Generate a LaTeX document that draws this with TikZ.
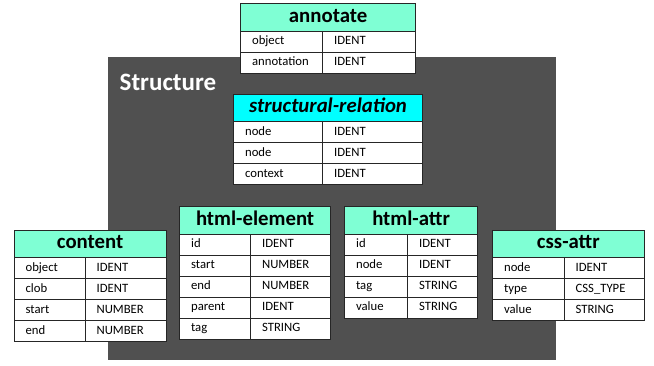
\documentclass[tikz,border=0pt]{standalone}
\usepackage{fontspec}
\setmainfont{Carlito}
\definecolor{panelgray}{HTML}{505050}
\definecolor{headaqua}{HTML}{7FFFD4}
\definecolor{headcyan}{HTML}{00FFFF}
\definecolor{rulecol}{HTML}{262626}

\tikzset{
  cellbox/.style={draw=rulecol, line width=1.2pt, fill=white, rectangle,
    minimum height=21pt, inner xsep=11.5pt, inner ysep=0pt,
    text height=9pt, text depth=3pt, anchor=north west, align=left,
    font=\fontsize{12.7}{14}\selectfont},
  headbox/.style={draw=rulecol, line width=1.2pt, rectangle,
    minimum height=27.5pt, inner sep=0pt, text height=14pt, text depth=4pt,
    anchor=north west, font=\fontsize{20.8}{24}\selectfont\bfseries},
  paneltitle/.style={anchor=base west, inner sep=0pt, text=white,
    font=\fontsize{25}{29}\selectfont\bfseries},
}

% #1 name, #2 left, #3 top, #4 total width, #5 key column width,
% #6 header fill, #7 title, #8 rows key/type
\newcommand{\dbtable}[8]{%
  \node[headbox, fill=#6, minimum width=#4] (#1-head) at (#2,#3) {#7};
  \pgfmathsetmacro\keytw{#5-23}%
  \pgfmathsetmacro\valtw{#4-#5-23}%
  \foreach \k/\v [count=\i] in {#8} {
    \node[cellbox, text width=\keytw pt, minimum width=#5]
      (#1-key-\i) at ({#2},{#3+27.5+21*(\i-1)}) {\k};
    \node[cellbox, text width=\valtw pt, minimum width={#4-#5}]
      (#1-type-\i) at ({#2+#5},{#3+27.5+21*(\i-1)}) {\v};
  }%
}

\begin{document}
\begin{tikzpicture}[x=1pt, y=-1pt]
  \useasboundingbox (0,0) rectangle (654,365);

  % dark panel grouping the structure tables
  \fill[panelgray] (108,57) rectangle (556,360);
  \node[paneltitle] (paneltitle) at (119.5,90) {Structure};

  \dbtable{annotate}{240}{3}{175}{82}{headaqua}{annotate}
    {object/IDENT, annotation/IDENT}

  \dbtable{structural}{233}{93.5}{189}{89}{headcyan}{\itshape structural-relation}
    {node/IDENT, node/IDENT, context/IDENT}

  \dbtable{content}{13.5}{229.5}{152}{71}{headaqua}{content}
    {object/IDENT, clob/IDENT, start/NUMBER, end/NUMBER}

  \dbtable{htmlelement}{179}{206}{151}{71}{headaqua}{html-element}
    {id/IDENT, start/NUMBER, end/NUMBER, parent/IDENT, tag/STRING}

  \dbtable{htmlattr}{344}{206}{133}{63}{headaqua}{html-attr}
    {id/IDENT, node/IDENT, tag/STRING, value/STRING}

  \dbtable{cssattr}{492}{229.5}{151.5}{71.5}{headaqua}{css-attr}
    {node/IDENT, type/CSS\_TYPE, value/STRING}
\end{tikzpicture}
\end{document}
